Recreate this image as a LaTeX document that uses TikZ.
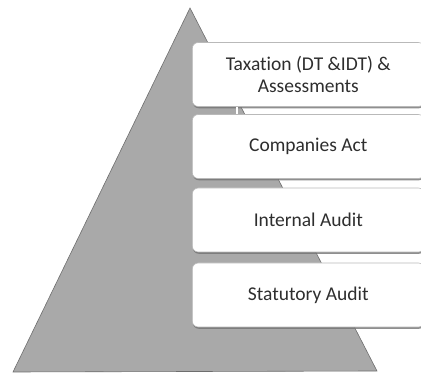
\documentclass[tikz,border=0pt]{standalone}
\usepackage{fontspec}
\setmainfont{Carlito}[Ligatures=NoCommon]
\usetikzlibrary{shadows}
\definecolor{pyrgray}{HTML}{A9A9A9}
\definecolor{pyredge}{HTML}{6E6E6E}
\definecolor{txtgray}{HTML}{2E2E2E}
\begin{document}
\begin{tikzpicture}[x=1pt,y=1pt,
  layerbox/.style={draw=gray!55, line width=0.6pt, fill=white, rounded corners=6pt,
    minimum width=232pt, minimum height=64pt, anchor=west,
    font=\fontsize{19.5}{22}\selectfont, text=txtgray, align=center,
    drop shadow={shadow xshift=0.5pt, shadow yshift=-1.8pt, fill=black!55, opacity=0.8}}]
\useasboundingbox (0,0) rectangle (421,375);
\fill[white] (0,0) rectangle (421,375);
\begin{scope}
\clip (0,0) rectangle (421,375);
\filldraw[fill=pyrgray, draw=pyredge, line width=0.6pt]
  (190,367) coordinate (apex) -- (377,4) coordinate (br) -- (13,3) coordinate (bl) -- cycle;
\node[layerbox] (tax) at (192,300.5) {Taxation (DT \&IDT) \&\\Assessments};
\node[layerbox] (comp) at (192,228.5) {Companies Act};
\node[layerbox] (ia) at (192,155) {Internal Audit};
\node[layerbox] (sa) at (192,80) {Statutory Audit};
\draw[white, line width=1.6pt] ([xshift=45pt]tax.south west) -- ([xshift=45pt]comp.north west);
\end{scope}
\end{tikzpicture}
\end{document}
